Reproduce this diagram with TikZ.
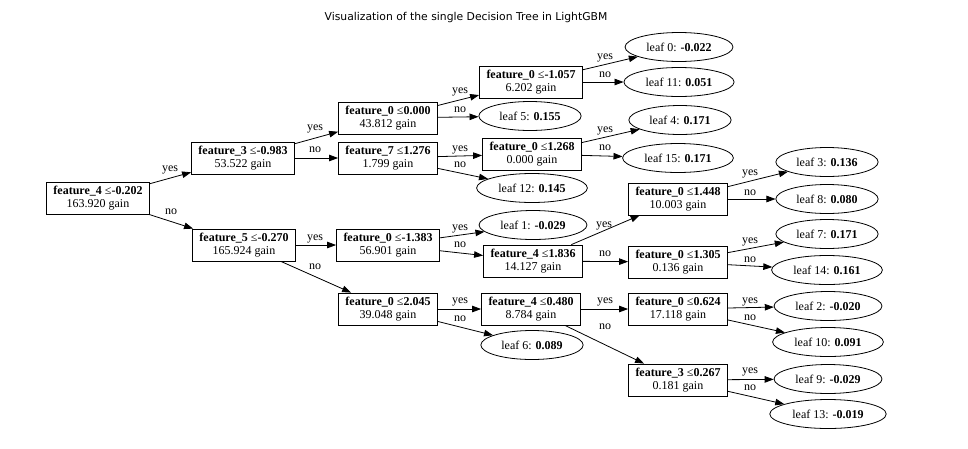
\documentclass[tikz,border=0pt]{standalone}
\usepackage{fontspec}
\setmainfont{Liberation Serif}
\newfontfamily\titlefont{DejaVu Sans}
\usetikzlibrary{shapes.geometric,arrows.meta}
\newcommand{\sn}[3]{\textbf{#1} ≤\textbf{#2}\\#3 gain}
\newcommand{\lf}[2]{leaf #1: \textbf{#2}}
\tikzset{
  splitbox/.style={draw, rectangle, align=center, font=\fontsize{12}{13}\selectfont, inner xsep=7pt, inner ysep=2pt, minimum height=32pt, line width=0.8pt},
  leafnode/.style={draw, ellipse, font=\fontsize{12}{13}\selectfont, inner xsep=5.5pt, inner ysep=1pt, minimum height=29pt, line width=0.8pt},
  arr/.style={-{Triangle[length=9pt,width=6.5pt]}, line width=0.8pt},
  lbl/.style={font=\fontsize{12}{13}\selectfont, inner sep=0pt}
}
\begin{document}
\begin{tikzpicture}[x=1pt,y=-1pt]
\useasboundingbox[fill=white] (0,0) rectangle (968,448);
\node[font=\titlefont\fontsize{10.8}{12}\selectfont] (title) at (466,18) {Visualization of the single Decision Tree in LightGBM};
% split nodes
\node[splitbox] (n0) at (98,198) {\sn{feature\_4}{-0.202}{163.920}};
\node[splitbox] (n1) at (243,158) {\sn{feature\_3}{-0.983}{53.522}};
\node[splitbox] (n9) at (244,245) {\sn{feature\_5}{-0.270}{165.924}};
\node[splitbox] (n2) at (388,118) {\sn{feature\_0}{0.000}{43.812}};
\node[splitbox] (n3) at (388,158) {\sn{feature\_7}{1.276}{1.799}};
\node[splitbox] (n10) at (388,245) {\sn{feature\_0}{-1.383}{56.901}};
\node[splitbox] (n11) at (388,309) {\sn{feature\_0}{2.045}{39.048}};
\node[splitbox] (n4) at (531,82) {\sn{feature\_0}{-1.057}{6.202}};
\node[splitbox] (n5) at (532,154) {\sn{feature\_0}{1.268}{0.000}};
\node[splitbox] (n6) at (533,261) {\sn{feature\_4}{1.836}{14.127}};
\node[splitbox] (n12) at (531,309) {\sn{feature\_4}{0.480}{8.784}};
\node[splitbox] (n7) at (678,199) {\sn{feature\_0}{1.448}{10.003}};
\node[splitbox] (n8) at (678,262) {\sn{feature\_0}{1.305}{0.136}};
\node[splitbox] (n13) at (678,309) {\sn{feature\_0}{0.624}{17.118}};
\node[splitbox] (n14) at (678,380) {\sn{feature\_3}{0.267}{0.181}};
% leaves
\node[leafnode] (l5) at (530,116) {\lf{5}{0.155}};
\node[leafnode] (l12) at (532,188) {\lf{12}{0.145}};
\node[leafnode] (l1) at (533,225) {\lf{1}{-0.029}};
\node[leafnode] (l6) at (532,345) {\lf{6}{0.089}};
\node[leafnode] (l0) at (679,47) {\lf{0}{-0.022}};
\node[leafnode] (l11) at (679,82) {\lf{11}{0.051}};
\node[leafnode] (l4) at (680,120) {\lf{4}{0.171}};
\node[leafnode] (l15) at (678,158) {\lf{15}{0.171}};
\node[leafnode] (l3) at (827,162) {\lf{3}{0.136}};
\node[leafnode] (l8) at (827,199) {\lf{8}{0.080}};
\node[leafnode] (l7) at (827,234) {\lf{7}{0.171}};
\node[leafnode] (l14) at (827,270) {\lf{14}{0.161}};
\node[leafnode] (l2) at (828,306) {\lf{2}{-0.020}};
\node[leafnode] (l10) at (828,342) {\lf{10}{0.091}};
\node[leafnode] (l9) at (828,379) {\lf{9}{-0.029}};
\node[leafnode] (l13) at (828,414) {\lf{13}{-0.019}};
% edges
\draw[arr] (n0) -- (n1) node[lbl] at (170,170) {yes};
\draw[arr] (n0) -- (n9) node[lbl] at (171,212) {no};
\draw[arr] (n1) -- (n2) node[lbl] at (315,129) {yes};
\draw[arr] (n1) -- (n3) node[lbl] at (315,150) {no};
\draw[arr] (n9) -- (n10) node[lbl] at (315,239) {yes};
\draw[arr] (n9) -- (n11) node[lbl] at (315,267) {no};
\draw[arr] (n2) -- (n4) node[lbl] at (460,92) {yes};
\draw[arr] (n2) -- (l5) node[lbl] at (460,110) {no};
\draw[arr] (n3) -- (n5) node[lbl] at (460,150) {yes};
\draw[arr] (n3) -- (l12) node[lbl] at (460,165) {no};
\draw[arr] (n10) -- (l1) node[lbl] at (460,229) {yes};
\draw[arr] (n10) -- (n6) node[lbl] at (460,245) {no};
\draw[arr] (n11) -- (n12) node[lbl] at (460,302) {yes};
\draw[arr] (n11) -- (l6) node[lbl] at (460,319) {no};
\draw[arr] (n4) -- (l0) node[lbl] at (605,58) {yes};
\draw[arr] (n4) -- (l11) node[lbl] at (605,75) {no};
\draw[arr] (n5) -- (l4) node[lbl] at (605,131) {yes};
\draw[arr] (n5) -- (l15) node[lbl] at (605,148) {no};
\draw[arr] (n6) -- (n7) node[lbl] at (604,226) {yes};
\draw[arr] (n6) -- (n8) node[lbl] at (605,254) {no};
\draw[arr] (n12) -- (n13) node[lbl] at (605,302) {yes};
\draw[arr] (n12) -- (n14) node[lbl] at (605,327) {no};
\draw[arr] (n7) -- (l3) node[lbl] at (750,174) {yes};
\draw[arr] (n7) -- (l8) node[lbl] at (750,193) {no};
\draw[arr] (n8) -- (l7) node[lbl] at (750,242) {yes};
\draw[arr] (n8) -- (l14) node[lbl] at (750,260) {no};
\draw[arr] (n13) -- (l2) node[lbl] at (750,302) {yes};
\draw[arr] (n13) -- (l10) node[lbl] at (750,318) {no};
\draw[arr] (n14) -- (l9) node[lbl] at (750,372) {yes};
\draw[arr] (n14) -- (l13) node[lbl] at (750,388) {no};
\end{tikzpicture}
\end{document}
